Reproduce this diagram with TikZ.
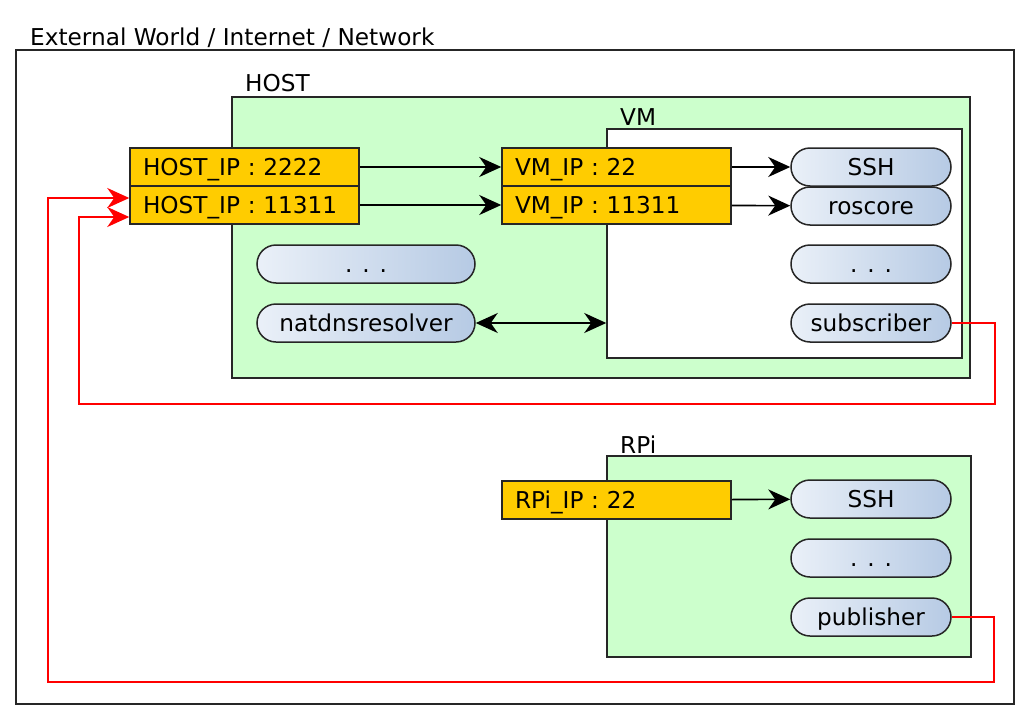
\documentclass[tikz,border=0pt]{standalone}
\usepackage{fontspec}
\setmainfont{DejaVu Sans}
\usetikzlibrary{arrows.meta,calc}
\definecolor{boxgreen}{RGB}{204,255,204}
\definecolor{portorange}{RGB}{255,204,0}
\definecolor{pillL}{RGB}{234,240,248}
\definecolor{pillR}{RGB}{182,202,228}
\definecolor{linkred}{RGB}{255,0,0}
\tikzset{bigtip/.tip={Stealth[length=22pt,width=20pt,inset=7pt]}}
\begin{document}
\begin{tikzpicture}[x=1pt,y=-1pt,
  font=\fontsize{23.2}{27}\selectfont,
  container/.style={draw=black!85,line width=1.5pt,minimum width=#1,inner sep=0pt},
  port/.style={draw=black!85,line width=1.5pt,fill=portorange,inner xsep=13pt,inner ysep=0pt,
     text width=#1-26pt,align=left,minimum height=38pt,text height=17pt,text depth=0pt},
  pill/.style={draw=black!85,line width=1.5pt,left color=pillL,right color=pillR,
     rounded corners=19pt,minimum width=#1,minimum height=38pt,inner sep=0pt,
     text height=17pt,text depth=0pt},
  lbl/.style={anchor=base west,inner sep=0pt},
  conn/.style={line width=1.6pt,black,-bigtip},
  redconn/.style={line width=1.6pt,linkred,-bigtip,line join=miter}
]
\useasboundingbox (0,0) rectangle (1028,720);
% containers
\node[container=998pt,minimum height=654pt,fill=white] (world) at (515,377) {};
\node[lbl] (worldlbl) at (30,45) {External World / Internet / Network};
\node[container=738pt,minimum height=281pt,fill=boxgreen] (host) at (601,237.5) {};
\node[lbl] (hostlbl) at (245,91) {HOST};
\node[container=355pt,minimum height=229pt,fill=white] (vm) at (784.5,243.5) {};
\node[lbl] (vmlbl) at (620,125) {VM};
\node[container=364pt,minimum height=201pt,fill=boxgreen] (rpi) at (789,556.5) {};
\node[lbl] (rpilbl) at (620,453) {RPi};
% ports
\node[port=229pt] (h1) at (244.5,167) {HOST\_IP : 2222};
\node[port=229pt] (h2) at (244.5,205) {HOST\_IP : 11311};
\node[port=229pt] (v1) at (616.5,167) {VM\_IP : 22};
\node[port=229pt] (v2) at (616.5,205) {VM\_IP : 11311};
\node[port=229pt] (rp) at (616.5,500) {RPi\_IP : 22};
% pills
\node[pill=160pt] (vssh) at (871,167) {SSH};
\node[pill=160pt] (vros) at (871,206) {roscore};
\node[pill=160pt] (vdots) at (871,264) {. . .};
\node[pill=160pt] (vsub) at (871,323) {subscriber};
\node[pill=218pt] (hdots) at (366,264) {. . .};
\node[pill=218pt] (hnat) at (366,323) {natdnsresolver};
\node[pill=160pt] (rssh) at (871,499) {SSH};
\node[pill=160pt] (rdots) at (871,558) {. . .};
\node[pill=160pt] (rpub) at (871,617) {publisher};
% black connectors
\draw[conn] (h1) -- (v1);
\draw[conn] (h2) -- (v2);
\draw[conn] (v1) -- (vssh);
\draw[conn] (v2) -- (vros);
\draw[conn] (rp) -- (rssh);
\draw[line width=1.6pt,bigtip-bigtip] (hnat.east) -- (hnat.east -| vm.west);
% red connectors
\coordinate (ra) at (995,404);
\coordinate (rb) at (79,404);
\coordinate (rc) at (994,682);
\coordinate (rd) at (48,682);
\draw[redconn] (vsub.east) -| (ra) -- (rb) |- ($(h2.west)+(0,12)$);
\draw[redconn] (rpub.east) -| (rc) -- (rd) |- ($(h2.west)+(0,-7)$);
\end{tikzpicture}
\end{document}
